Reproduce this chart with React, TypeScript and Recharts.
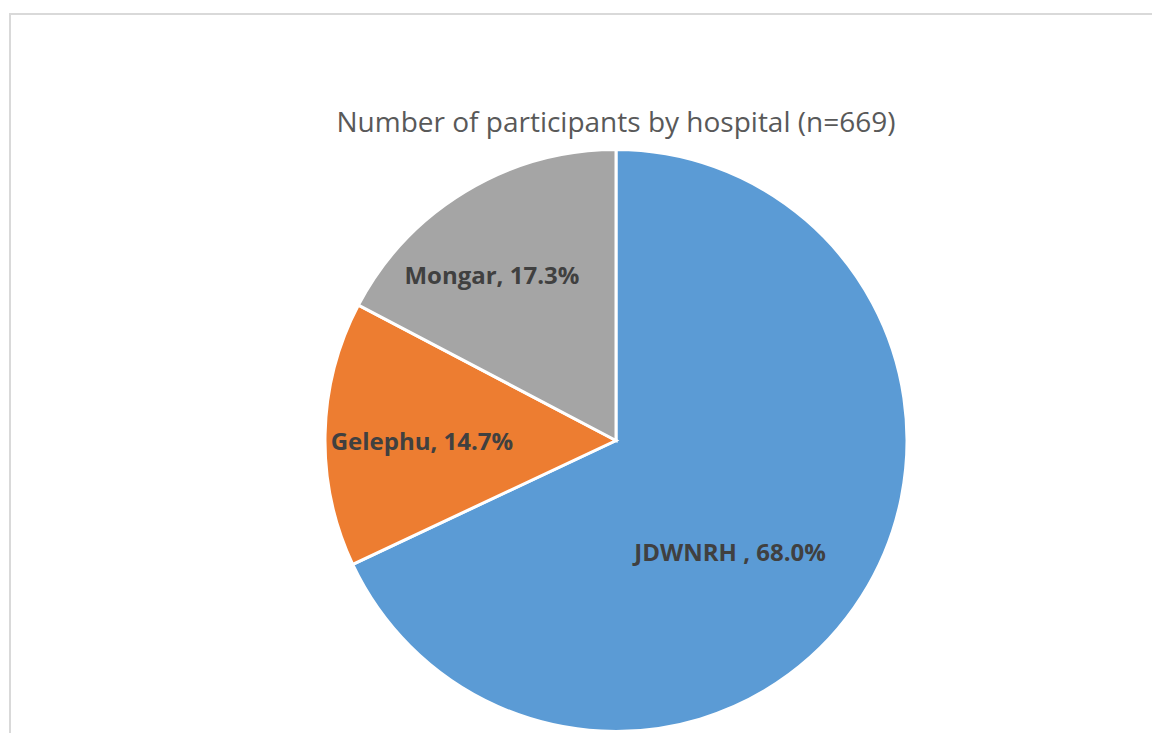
import { Cell, Pie, PieChart } from "recharts";

const hospitals = ["JDWNRH ", "Gelephu", "Mongar"];
const shares = [68.0, 14.7, 17.3];
const colors = ["#5B9BD5", "#ED7D31", "#A5A5A5"];

// label nudges (radius fraction, clockwise angle shift) to mimic Excel best-fit placement
const labelPlacement = [
  { r: 0.546, shift: 11.7 },
  { r: 0.667, shift: -1.4 },
  { r: 0.713, shift: -5.6 },
];

const RAD = Math.PI / 180;

const chartData = hospitals.map((name, i) => ({ name, value: shares[i] }));

function renderLabel(props: any) {
  const { cx, cy, midAngle, outerRadius, index, name, value } = props;
  const place = labelPlacement[index];
  const angle = midAngle - place.shift;
  const r = outerRadius * place.r;
  const x = cx + r * Math.cos(-angle * RAD);
  const y = cy + r * Math.sin(-angle * RAD);
  return (
    <text
      x={x}
      y={y}
      fill="#404040"
      textAnchor="middle"
      dominantBaseline="central"
      fontFamily="'Open Sans', sans-serif"
      fontWeight={700}
      fontSize={24}
    >
      {`${name}, ${value.toFixed(1)}%`}
    </text>
  );
}

export default function App() {
  return (
    <div
      style={{
        position: "fixed",
        top: 0,
        left: 0,
        width: 1152,
        height: 733,
        overflow: "hidden",
        background: "#ffffff",
      }}
    >
      <div
        style={{
          position: "absolute",
          left: 9,
          top: 13,
          width: 1300,
          height: 900,
          border: "2px solid #d9d9d9",
        }}
      />
      <div
        style={{
          position: "absolute",
          left: 0,
          top: 102,
          width: 1232,
          textAlign: "center",
          fontFamily: "'Open Sans', sans-serif",
          fontSize: 28,
          lineHeight: "38px",
          color: "#595959",
          whiteSpace: "nowrap",
        }}
      >
        Number of participants by hospital (n=669)
      </div>
      <div style={{ position: "absolute", left: 0, top: 0 }}>
        <PieChart width={1232} height={881} margin={{ top: 0, right: 0, bottom: 0, left: 0 }}>
          <Pie
            data={chartData}
            dataKey="value"
            nameKey="name"
            cx={616}
            cy={440.5}
            outerRadius={291}
            startAngle={90}
            endAngle={-270}
            stroke="#ffffff"
            strokeWidth={3}
            label={renderLabel}
            labelLine={false}
            isAnimationActive={false}
          >
            {chartData.map((d, i) => (
              <Cell key={d.name} fill={colors[i]} />
            ))}
          </Pie>
        </PieChart>
      </div>
    </div>
  );
}
